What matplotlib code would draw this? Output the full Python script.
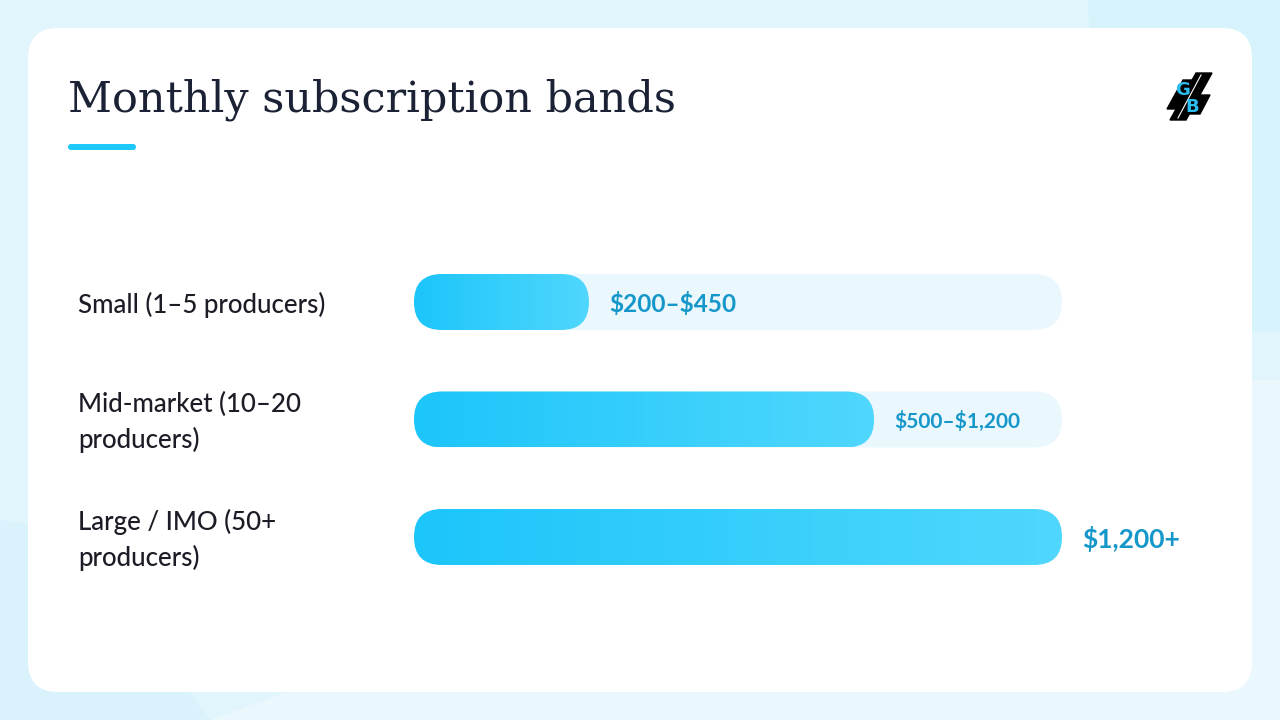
import numpy as np
import matplotlib.pyplot as plt
from matplotlib.patches import FancyBboxPatch, Polygon
from matplotlib.colors import LinearSegmentedColormap
from matplotlib.transforms import blended_transform_factory

# chart data
categories = ['Small (1–5 producers)', 'Mid-market (10–20\nproducers)', 'Large / IMO (50+\nproducers)']
fill_pct = [27, 71, 100]
price_labels = [r'\$200–\$450', r'\$500–\$1,200', r'\$1,200+']
price_sizes = [17.6, 15, 19]

W, H = 1280, 720
fig = plt.figure(figsize=(12.8, 7.2), dpi=100)

# background layer in pixel coordinates
bg = fig.add_axes([0, 0, 1, 1])
bg.set_xlim(0, W)
bg.set_ylim(H, 0)
bg.axis('off')
bg.add_patch(Polygon([(0, 0), (W, 0), (W, H), (0, H)], color='#e1f5fc', zorder=0))
bg.add_patch(Polygon([(1088, 0), (W, 0), (W, 330), (1105, 330)], color='#d6f3fc', zorder=0))
bg.add_patch(Polygon([(210, H), (W, H), (W, 380), (1150, 380)], color='#eaf7fc', zorder=0))
bg.add_patch(Polygon([(0, 520), (60, 530), (210, H), (0, H)], color='#d9f2fb', zorder=0))

card = FancyBboxPatch((28, 28), 1224, 664, boxstyle='round,pad=0,rounding_size=30',
                      facecolor='white', edgecolor='none', zorder=1)
bg.add_patch(card)

bg.text(68, 100, 'Monthly subscription bands', fontfamily='DejaVu Serif', fontsize=31,
        color='#1b2236', va='center', ha='left', zorder=2)
bg.add_patch(FancyBboxPatch((68, 144), 68, 6, boxstyle='round,pad=0,rounding_size=3',
                            facecolor='#1ec8fa', edgecolor='none', zorder=2))

# small logo top right
bg.add_patch(Polygon([(1196, 73), (1212, 73), (1186, 120), (1170, 120)], color='black', zorder=2))
bg.add_patch(Polygon([(1183, 80), (1192, 80), (1176, 109), (1167, 109)], color='black', zorder=2))
bg.add_patch(Polygon([(1199, 95), (1210, 95), (1200, 114), (1189, 114)], color='black', zorder=2))
bg.plot([1201, 1178], [75, 118], color='white', lw=0.8, zorder=3)
bg.text(1183, 90, 'G', color='#2bbdf0', fontsize=13, fontweight='bold', ha='center', va='center', zorder=4)
bg.text(1192, 107, 'B', color='#2bbdf0', fontsize=13, fontweight='bold', ha='center', va='center', zorder=4)

# bar axes, track spans x 414..1062 px
x0_px, x1_px = 414, 1062
step_px = 117.5
top_px = 302 - step_px / 2
ax = fig.add_axes([x0_px / W, 1 - (top_px + 3 * step_px) / H, (x1_px - x0_px) / W, 3 * step_px / H])
ax.axis('off')
ax.patch.set_alpha(0)
ax.set_xlim(0, 100)
ax.set_ylim(2.5, -0.5)

px_x = (x1_px - x0_px) / 100
px_y = step_px
bar_h = 56 / px_y
rad = 28 / px_x
asp = px_x / px_y
grad_cmap = LinearSegmentedColormap.from_list('bar', ['#1cc5fa', '#50d7fd'])
grad = np.linspace(0, 1, 256).reshape(1, -1)

lab_tr = blended_transform_factory(bg.transData, ax.transData)

for i, (cat, pct, lab, fs) in enumerate(zip(categories, fill_pct, price_labels, price_sizes)):
    track = FancyBboxPatch((0, i - bar_h / 2), 100, bar_h,
                           boxstyle=f'round,pad=0,rounding_size={rad}', mutation_aspect=asp,
                           facecolor='#eaf7fd', edgecolor='none', zorder=1)
    ax.add_patch(track)
    fill = FancyBboxPatch((0, i - bar_h / 2), pct, bar_h,
                          boxstyle=f'round,pad=0,rounding_size={rad}', mutation_aspect=asp,
                          facecolor='none', edgecolor='none', zorder=2)
    ax.add_patch(fill)
    im = ax.imshow(grad, cmap=grad_cmap, aspect='auto', zorder=2,
                   extent=[0, pct, i + bar_h / 2, i - bar_h / 2])
    im.set_clip_path(fill)
    ax.text(pct + 20 / px_x, i + 2 / px_y, lab, fontfamily='Lato', fontweight='bold', fontsize=fs,
            color='#1598c9', va='center', ha='left', zorder=3, clip_on=False)
    ax.text(78, i + 3 / px_y, cat, transform=lab_tr, fontfamily='Lato', fontweight='medium',
            fontsize=18.6, color='#1c1c26', va='center', ha='left', linespacing=1.5, zorder=3)

ax.set_xlim(0, 100)
ax.set_ylim(2.5, -0.5)

fig.savefig('out.png', dpi=100)
